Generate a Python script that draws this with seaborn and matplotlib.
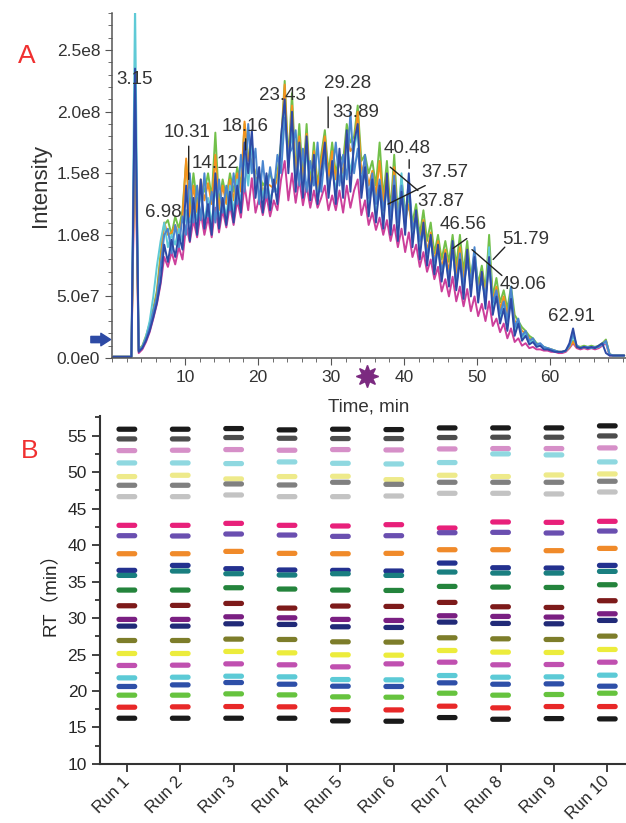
import numpy as np
import pandas as pd
import matplotlib
matplotlib.use("Agg")
import matplotlib.pyplot as plt
import seaborn as sns
from matplotlib.path import Path
from matplotlib.ticker import MultipleLocator

sns.set_style("ticks")
plt.rcParams["font.family"] = ["Liberation Sans", "Noto Sans CJK SC", "DejaVu Sans"]

# ---------------- panel A: overlaid TIC traces (intensity in 1e6) ----------------
# sampled every 0.5 min starting at 0.15 min
t_start, t_step = 0.15, 0.5

tic_green = [1, 1, 1, 1, 1, 1, 210, 7, 10, 18,
             28, 40, 55, 85, 108, 112, 100, 115, 105, 120,
             160, 120, 150, 125, 140, 135, 150, 130, 183, 125,
             145, 130, 150, 135, 155, 140, 190, 165, 160, 150,
             150, 140, 145, 150, 140, 150, 175, 225, 160, 215,
             150, 190, 145, 190, 140, 175, 140, 165, 185, 150,
             175, 150, 165, 160, 190, 175, 180, 205, 160, 165,
             150, 160, 140, 175, 130, 160, 120, 165, 115, 145,
             120, 130, 110, 125, 100, 120, 95, 110, 85, 100,
             80, 95, 78, 100, 75, 100, 70, 95, 65, 85,
             60, 75, 55, 100, 50, 65, 45, 55, 40, 58,
             35, 30, 25, 22, 18, 16, 12, 11, 9, 8,
             7, 6, 5, 5, 6, 9, 14, 10, 9, 10,
             9, 10, 9, 10, 12, 15, 3, 2, 2, 2, 2]

tic_orange = [1, 1, 1, 1, 1, 1, 200, 6, 9, 16,
              26, 38, 52, 80, 110, 100, 102, 108, 100, 115,
              162, 112, 140, 118, 145, 128, 142, 125, 165, 120,
              140, 125, 145, 128, 150, 135, 192, 160, 170, 145,
              148, 135, 142, 140, 138, 145, 170, 222, 155, 205,
              145, 180, 140, 182, 135, 168, 135, 160, 180, 145,
              168, 145, 160, 150, 182, 168, 172, 200, 150, 160,
              140, 152, 132, 160, 125, 150, 115, 155, 108, 140,
              112, 125, 102, 118, 92, 112, 86, 102, 78, 95,
              72, 88, 70, 92, 68, 90, 62, 88, 58, 80,
              54, 70, 50, 88, 46, 58, 40, 50, 35, 52,
              30, 28, 22, 20, 16, 14, 11, 10, 8, 8,
              7, 6, 5, 5, 6, 9, 13, 9, 8, 9,
              8, 9, 8, 9, 11, 14, 3, 2, 2, 2, 2]

tic_magenta = [1, 1, 1, 1, 1, 1, 180, 4, 7, 13,
               21, 32, 44, 60, 82, 74, 86, 76, 90, 80,
               108, 94, 112, 98, 118, 100, 114, 98, 122, 102,
               120, 106, 124, 108, 128, 114, 140, 120, 146, 118,
               130, 116, 132, 115, 128, 120, 145, 160, 128, 150,
               126, 145, 124, 140, 122, 136, 122, 130, 140, 120,
               132, 120, 136, 118, 140, 122, 136, 145, 116, 128,
               108, 118, 104, 114, 100, 112, 95, 108, 90, 105,
               86, 102, 82, 92, 74, 86, 70, 80, 64, 74,
               54, 64, 50, 66, 46, 58, 42, 56, 38, 50,
               34, 44, 30, 46, 26, 32, 21, 28, 16, 24,
               13, 16, 10, 12, 8, 9, 7, 7, 6, 6,
               5, 5, 4, 4, 5, 8, 12, 8, 7, 8,
               7, 8, 7, 8, 10, 12, 2, 2, 2, 2, 2]

tic_cyan = [1, 1, 1, 1, 1, 1, 290, 6, 9, 17,
            30, 50, 75, 95, 110, 90, 100, 92, 105, 95,
            120, 110, 125, 112, 135, 110, 130, 108, 140, 112,
            130, 115, 140, 118, 145, 125, 165, 140, 175, 140,
            150, 130, 148, 128, 140, 135, 170, 200, 155, 185,
            140, 170, 135, 170, 132, 160, 130, 150, 170, 135,
            155, 135, 165, 140, 175, 150, 170, 185, 140, 150,
            125, 140, 118, 135, 112, 140, 108, 135, 105, 150,
            105, 140, 98, 112, 88, 105, 80, 98, 72, 90,
            66, 82, 62, 90, 58, 80, 55, 85, 55, 80,
            50, 65, 46, 90, 40, 52, 33, 45, 27, 52,
            22, 30, 16, 20, 13, 14, 10, 11, 8, 8,
            7, 6, 5, 5, 6, 10, 18, 10, 8, 9,
            8, 9, 8, 9, 11, 13, 3, 2, 2, 2, 2]

tic_steel = [1, 1, 1, 1, 1, 1, 230, 6, 9, 16,
             25, 38, 50, 75, 100, 105, 85, 108, 90, 115,
             100, 150, 110, 140, 112, 150, 115, 135, 110, 145,
             118, 140, 120, 150, 125, 165, 135, 190, 150, 170,
             125, 160, 130, 155, 135, 165, 150, 195, 165, 170,
             185, 140, 170, 135, 160, 140, 175, 135, 165, 140,
             150, 175, 140, 165, 145, 200, 150, 170, 140, 165,
             130, 150, 125, 145, 120, 140, 115, 148, 110, 140,
             112, 145, 105, 115, 95, 105, 85, 95, 78, 88,
             72, 80, 66, 88, 60, 85, 58, 78, 62, 90,
             55, 62, 50, 75, 45, 55, 36, 46, 30, 58,
             25, 32, 18, 22, 14, 16, 11, 12, 9, 8,
             7, 6, 5, 5, 6, 10, 20, 10, 8, 9,
             9, 8, 9, 9, 11, 14, 3, 2, 2, 2, 2]

tic_blue = [1, 1, 1, 1, 1, 1, 235, 5, 8, 14,
            22, 33, 45, 62, 92, 78, 96, 82, 100, 88,
            140, 95, 130, 100, 145, 105, 125, 100, 150, 105,
            130, 108, 135, 110, 140, 118, 175, 150, 185, 130,
            155, 118, 150, 120, 145, 125, 180, 210, 150, 200,
            135, 175, 130, 180, 128, 165, 125, 150, 175, 130,
            160, 125, 170, 130, 185, 135, 175, 190, 130, 155,
            115, 145, 110, 140, 105, 150, 100, 140, 95, 135,
            100, 150, 90, 120, 80, 110, 75, 100, 68, 92,
            62, 85, 58, 95, 55, 80, 48, 88, 50, 82,
            45, 70, 40, 82, 35, 50, 28, 40, 22, 48,
            18, 28, 14, 18, 11, 13, 9, 10, 7, 7,
            6, 5, 5, 5, 6, 12, 24, 9, 8, 9,
            8, 9, 8, 10, 12, 4, 2, 2, 2, 2, 2]

trace_colors = {"green": "#72c04a", "orange": "#f3921e", "magenta": "#cc3f9b",
                "cyan": "#5fcad6", "steel": "#4a86cf", "blue": "#2d4aa5"}
traces = {"green": tic_green, "orange": tic_orange, "magenta": tic_magenta,
          "cyan": tic_cyan, "steel": tic_steel, "blue": tic_blue}
draw_order = ["magenta", "green", "orange", "cyan", "steel", "blue"]

peak_labels = ["3.15", "6.98", "10.31", "14.12", "18.16", "23.43", "29.28", "33.89",
               "40.48", "37.57", "37.87", "46.56", "51.79", "49.06", "62.91"]
label_x = [3.15, 7.0, 10.3, 14.1, 18.2, 23.4, 32.2, 33.4, 40.4, 45.6, 45.0, 48.1, 56.6, 56.3, 62.9]
label_y = [226, 118, 183, 158, 188, 213, 223, 199, 170, 151, 127, 108, 96, 60, 34]
# leader lines: (x0, y0, x1, y1)
leaders = [(10.5, 172, 10.5, 145), (18.3, 178, 18.3, 169), (29.6, 212, 29.6, 187),
           (40.7, 161, 40.7, 154), (38.1, 155, 41.9, 136), (37.8, 125, 42.9, 140),
           (46.7, 89, 48.6, 97), (52.2, 80, 53.8, 90), (49.3, 88, 53.4, 67)]

# ---------------- panel B: retention times per run ----------------
peptide_colors = ["#1a1a1a", "#4d4d4d", "#d68fc8", "#8fd8e0", "#eeea8a", "#808080",
                  "#c3c3c3", "#e8207a", "#6a4fb0", "#f08a2a", "#23318f", "#1a7f80",
                  "#24843c", "#7d1a1a", "#7a1f82", "#212a78", "#7d7d2a", "#ecec3c",
                  "#c050b0", "#5ccad6", "#2e4fa8", "#66c33e", "#e82828", "#1a1a1a"]
runs = ["Run 1", "Run 2", "Run 3", "Run 4", "Run 5",
        "Run 6", "Run 7", "Run 8", "Run 9", "Run 10"]
rt_run1 = [55.87, 54.54, 52.94, 51.25, 49.38, 48.19, 46.63, 42.70, 41.28, 38.81, 36.53, 35.84,
           33.83, 31.68, 29.81, 28.89, 26.92, 25.14, 23.50, 21.80, 20.62, 19.43, 17.78, 16.27]
rt_run2 = [55.87, 54.54, 52.99, 51.25, 49.56, 48.19, 46.63, 42.70, 41.24, 38.81, 37.21, 36.44,
           33.83, 31.73, 29.81, 28.89, 26.92, 25.14, 23.54, 21.89, 20.84, 19.43, 17.83, 16.27]
rt_run3 = [55.96, 54.73, 53.08, 51.16, 49.06, 48.37, 46.86, 42.97, 41.51, 39.13, 36.76, 36.07,
           34.15, 32.00, 30.17, 29.21, 27.11, 25.42, 23.72, 22.03, 21.16, 19.61, 17.87, 16.27]
rt_run4 = [55.78, 54.63, 52.99, 51.39, 49.38, 48.23, 46.63, 42.70, 41.37, 38.86, 36.58, 35.89,
           33.97, 31.36, 30.03, 29.12, 27.06, 25.23, 23.59, 21.94, 20.93, 19.47, 17.83, 16.27]
rt_run5 = [55.87, 54.59, 53.08, 51.20, 49.42, 48.60, 46.63, 42.61, 41.19, 38.81, 36.53, 36.07,
           33.83, 31.64, 29.81, 28.80, 26.74, 24.96, 23.31, 21.57, 20.66, 19.20, 17.46, 15.91]
rt_run6 = [55.82, 54.59, 53.03, 51.11, 48.96, 48.32, 46.72, 42.79, 41.28, 38.86, 36.44, 35.84,
           33.78, 31.59, 29.67, 28.71, 26.70, 24.91, 23.72, 21.53, 20.62, 19.15, 17.41, 15.86]
rt_run7 = [56.05, 54.73, 53.17, 51.30, 49.56, 48.60, 47.09, 42.33, 41.69, 39.36, 37.53, 36.30,
           34.33, 32.14, 30.31, 29.44, 27.29, 25.55, 23.95, 22.12, 21.12, 19.70, 17.92, 16.36]
rt_run8 = [56.05, 54.77, 53.22, 52.49, 49.38, 48.60, 47.09, 43.16, 41.74, 39.36, 36.89, 36.16,
           34.24, 31.54, 30.22, 29.26, 27.15, 25.33, 23.59, 21.89, 20.93, 19.43, 17.69, 16.13]
rt_run9 = [56.05, 54.77, 53.22, 52.35, 49.60, 48.60, 47.00, 43.11, 41.65, 39.23, 36.85, 36.16,
           34.19, 31.45, 30.13, 29.21, 27.06, 25.28, 23.63, 21.94, 20.98, 19.52, 17.87, 16.22]
rt_run10 = [56.33, 54.95, 53.31, 51.39, 49.74, 48.74, 47.27, 43.25, 41.92, 39.54, 37.21, 36.39,
            34.56, 32.37, 30.58, 29.67, 27.52, 25.69, 23.95, 22.17, 20.66, 19.70, 17.87, 16.18]
rt_all = [rt_run1, rt_run2, rt_run3, rt_run4, rt_run5,
          rt_run6, rt_run7, rt_run8, rt_run9, rt_run10]

# ---------------- build tables ----------------
rows = []
for name, vals in traces.items():
    for k, v in enumerate(vals):
        rows.append({"time": t_start + t_step * k, "intensity": v * 1e6, "trace": name})
tic_df = pd.DataFrame(rows)

rows = []
for i, vals in enumerate(rt_all):
    for j, v in enumerate(vals):
        rows.append({"run": i, "rt": v, "peptide": f"P{j:02d}"})
rt_df = pd.DataFrame(rows)
pep_palette = {f"P{j:02d}": c for j, c in enumerate(peptide_colors)}

# capsule shaped marker for the RT bars
ang_r = np.linspace(-np.pi / 2, np.pi / 2, 20)
ang_l = np.linspace(np.pi / 2, 3 * np.pi / 2, 20)
verts = np.vstack([np.column_stack([1.5 + 0.5 * np.cos(ang_r), 0.5 * np.sin(ang_r)]),
                   np.column_stack([-1.5 + 0.5 * np.cos(ang_l), 0.5 * np.sin(ang_l)])])
verts = np.vstack([verts, verts[:1]])
capsule = Path(verts, closed=True)

# ---------------- figure ----------------
fig = plt.figure(figsize=(6.26, 8.23), dpi=100)
ax_a = fig.add_axes([0.179, 0.565, 0.821, 0.419])
ax_b = fig.add_axes([0.160, 0.0717, 0.84, 0.423])

txt = "#333333"

sns.lineplot(data=tic_df, x="time", y="intensity", hue="trace",
             hue_order=draw_order, palette=trace_colors, estimator=None, sort=False,
             lw=1.4, legend=False, ax=ax_a)
ax_a.set_xlim(0, 70.4)
ax_a.set_ylim(0, 2.8e8)
ax_a.set_yticks([0, 5e7, 1e8, 1.5e8, 2e8, 2.5e8])
ax_a.set_yticklabels(["0.0e0", "5.0e7", "1.0e8", "1.5e8", "2.0e8", "2.5e8"])
ax_a.set_xticks([10, 20, 30, 40, 50, 60])
ax_a.xaxis.set_minor_locator(MultipleLocator(2))
ax_a.yaxis.set_minor_locator(MultipleLocator(1e7))
ax_a.tick_params(which="both", direction="out", colors="#555555", labelcolor=txt, labelsize=12.5)
ax_a.tick_params(which="major", length=5)
ax_a.tick_params(which="minor", length=3)
ax_a.set_xlabel("Time, min", fontsize=13.5, color=txt, labelpad=10)
ax_a.set_ylabel("Intensity", fontsize=16, color=txt, labelpad=4)
for s in ["top", "right"]:
    ax_a.spines[s].set_visible(False)
for s in ["left", "bottom"]:
    ax_a.spines[s].set_color("#555555")
    ax_a.spines[s].set_linewidth(1.1)

for lab, x, y in zip(peak_labels, label_x, label_y):
    ax_a.text(x, y * 1e6, lab, ha="center", va="center", fontsize=13.5, color=txt)
for x0, y0, x1, y1 in leaders:
    ax_a.annotate("", xy=(x0, y0 * 1e6), xytext=(x1, y1 * 1e6),
                  arrowprops=dict(arrowstyle="-", color="#222222", lw=1.0,
                                  shrinkA=0, shrinkB=0))

# instrument markers: threshold arrow on the left, asterisk below the time axis
ax_a.annotate("", xy=(-0.2, 1.5e7), xytext=(-2.9, 1.5e7), annotation_clip=False,
              arrowprops=dict(arrowstyle="simple,head_width=0.9,head_length=0.7,tail_width=0.45",
                              color="#2d4aa5", shrinkA=0, shrinkB=0))
ax_a.plot([34.9], [-0.052], marker=(8, 1, 0), ms=16, color="#7b2a80",
          transform=ax_a.get_xaxis_transform(), clip_on=False)

fig.text(0.042, 0.932, "A", fontsize=19, color="#f03030", ha="center", va="center")
fig.text(0.048, 0.452, "B", fontsize=19, color="#f03030", ha="center", va="center")

sns.scatterplot(data=rt_df, x="run", y="rt", hue="peptide", palette=pep_palette,
                marker=capsule, s=225, linewidth=0, legend=False, ax=ax_b)
ax_b.set_xlim(-0.5, 9.35)
ax_b.set_ylim(10, 57.7)
ax_b.set_xticks(range(len(runs)))
ax_b.set_xticklabels(runs, rotation=45, ha="right", va="center", rotation_mode="anchor",
                     fontsize=12)
ax_b.set_yticks([10, 15, 20, 25, 30, 35, 40, 45, 50, 55])
ax_b.yaxis.set_minor_locator(MultipleLocator(2.5))
ax_b.tick_params(which="both", direction="out", colors="#333333", labelcolor="#262626",
                 width=1.3)
ax_b.tick_params(axis="y", labelsize=12.5)
ax_b.tick_params(axis="x", which="major", length=6, pad=5)
ax_b.tick_params(axis="y", which="major", length=6)
ax_b.tick_params(which="minor", length=3.5)
ax_b.set_xlabel("")
ax_b.set_ylabel("RT（min）", fontsize=13.5, color="#262626", labelpad=6)
for s in ["top", "right"]:
    ax_b.spines[s].set_visible(False)
for s in ["left", "bottom"]:
    ax_b.spines[s].set_color("#333333")
    ax_b.spines[s].set_linewidth(1.5)

fig.savefig("out.png", dpi=100)
